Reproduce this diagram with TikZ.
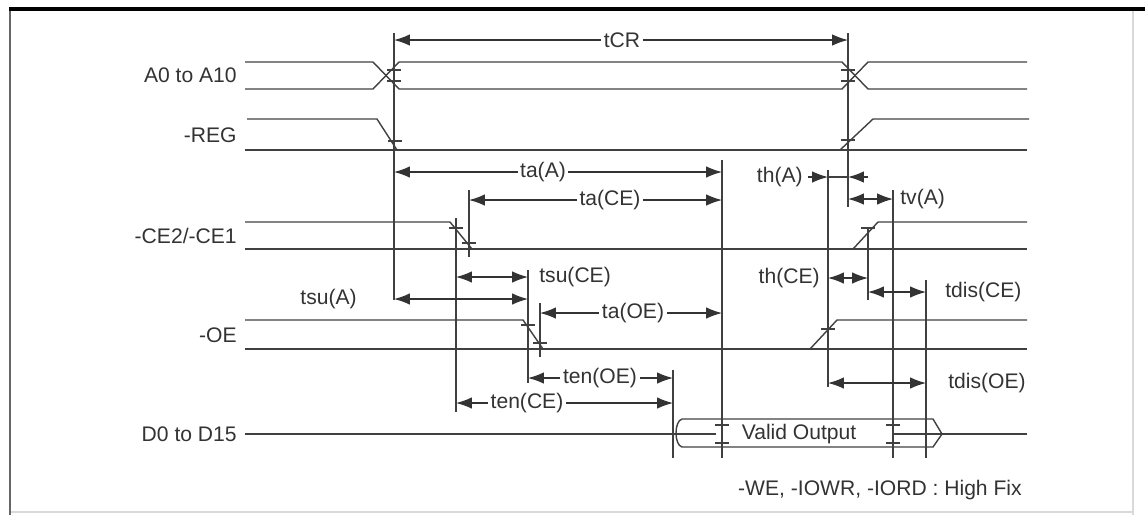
\documentclass[tikz,border=0pt]{standalone}
\usepackage{fontspec}
\setmainfont{Liberation Sans}
\usetikzlibrary{arrows.meta}

\begin{document}
\begin{tikzpicture}[x=0.02cm,y=-0.02cm,
        sig/.style={draw=black!75,line width=0.8pt},
        guide/.style={draw=black!75,line width=0.7pt},
        dim/.style={draw=black!80,line width=0.7pt,{Latex[length=9pt,width=6.5pt]}-{Latex[length=9pt,width=6.5pt]}},
        onetip/.style={draw=black!80,line width=0.7pt,-{Latex[length=9pt,width=6.5pt]}},
        lbl/.style={fill=white,inner sep=1.5pt,font=\fontsize{12}{14}\selectfont,text=black!80},
        signame/.style={inner sep=0pt,font=\fontsize{12}{14}\selectfont,text=black!80}]
        \useasboundingbox (0,0) rectangle (1145,515);
        \draw[black!15,line width=0.6pt] (1133,10) -- (1133,515);
        \draw[black!15,line width=0.6pt] (10,512) -- (1133,512);
        \draw[black!60,line width=1.6pt] (10,9) -- (10,515);
        \draw[black,line width=1.8pt] (9,9) -- (1145,9);

        \node[signame,anchor=east] (addr) at (237,75) {A0 to A10};
        \node[signame,anchor=east] (reg) at (237,135) {-REG};
        \node[signame,anchor=east] (ce) at (237,236) {-CE2/-CE1};
        \node[signame,anchor=east] (oe) at (237,335) {-OE};
        \node[signame,anchor=east] (data) at (237,434) {D0 to D15};
        \node[signame,anchor=east] (fix) at (1022,490) {-WE, -IOWR, -IORD : High Fix};

        \draw[sig] (245,62) -- (373,62) -- (399,89) -- (842,89) -- (868,62) -- (1027,62);
        \draw[sig] (245,89) -- (373,89) -- (399,62) -- (842,62) -- (868,89) -- (1027,89);
        \draw[sig] (247,119) -- (377,119) -- (397,150);
        \draw[sig] (245,150) -- (1027,150);
        \draw[sig] (840,150) -- (873,119) -- (1029,119);
        \draw[sig] (245,222) -- (450,222) -- (472,249);
        \draw[sig] (245,249) -- (1027,249);
        \draw[sig] (853,249) -- (878,222) -- (1027,222);
        \draw[sig] (245,320) -- (523,320) -- (543,349);
        \draw[sig] (245,349) -- (1027,349);
        \draw[sig] (810,349) -- (837,320) -- (1027,320);
        \draw[sig] (245,434) -- (676,434);
        \draw[sig] (682,419) -- (933,419) -- (942,434) -- (933,447) -- (682,447)
            .. controls (674,445) and (674,421) .. (682,419);
        \draw[sig] (676,434) -- (716,434);
        \draw[sig] (893,434) -- (1027,434);
        \node[signame] (valid) at (799,434) {Valid Output};

        \draw[guide] (394,33) -- (394,300);
        \draw[guide] (848,33) -- (848,207);
        \draw[guide] (456,218) -- (456,412);
        \draw[guide] (469,190) -- (469,257);
        \draw[guide] (528,270) -- (528,383);
        \draw[guide] (540,303) -- (540,357);
        \draw[guide] (722,160) -- (722,458);
        \draw[guide] (673,370) -- (673,458);
        \draw[guide] (828,170) -- (828,387);
        \draw[guide] (868,227) -- (868,300);
        \draw[guide] (893,190) -- (893,458);
        \draw[guide] (926,280) -- (926,458);

        \draw[guide] (387,70) -- ++(14,0);
        \draw[guide] (387,81) -- ++(14,0);
        \draw[guide] (388,141) -- ++(14,0);
        \draw[guide] (449,228) -- ++(14,0);
        \draw[guide] (462,243) -- ++(14,0);
        \draw[guide] (521,325) -- ++(14,0);
        \draw[guide] (533,343) -- ++(14,0);
        \draw[guide] (841,70) -- ++(14,0);
        \draw[guide] (841,81) -- ++(14,0);
        \draw[guide] (841,140) -- ++(14,0);
        \draw[guide] (861,228) -- ++(14,0);
        \draw[guide] (821,329) -- ++(14,0);
        \draw[guide] (715,425) -- ++(14,0);
        \draw[guide] (715,443) -- ++(14,0);
        \draw[guide] (886,425) -- ++(14,0);
        \draw[guide] (886,443) -- ++(14,0);

        \draw[dim] (394,40) -- (848,40);
        \node[lbl] (tcr) at (622,40) {tCR};
        \draw[dim] (394,172) -- (722,172);
        \node[lbl] (taa) at (543,172) {ta(A)};
        \draw[dim] (469,200) -- (722,200);
        \node[lbl] (tace) at (610,200) {ta(CE)};
        \draw[dim] (456,277) -- (528,277);
        \node[signame,anchor=west] (tsuce) at (539,277) {tsu(CE)};
        \draw[dim] (394,299) -- (528,299);
        \node[signame,anchor=east] (tsua) at (357,299) {tsu(A)};
        \draw[dim] (540,313) -- (722,313);
        \node[lbl] (taoe) at (633,313) {ta(OE)};
        \draw[dim] (528,378) -- (673,378);
        \node[lbl] (tenoe) at (600,378) {ten(OE)};
        \draw[dim] (456,403) -- (673,403);
        \node[lbl] (tence) at (527,403) {ten(CE)};

        \draw[onetip] (808,177) -- (828,177);
        \draw[guide] (828,177) -- (848,177);
        \draw[onetip] (868,177) -- (848,177);
        \node[signame,anchor=east] (tha) at (803,177) {th(A)};
        \draw[dim] (848,199) -- (893,199);
        \node[signame,anchor=west] (tva) at (900,199) {tv(A)};
        \draw[dim] (828,278) -- (868,278);
        \node[signame,anchor=east] (thce) at (820,278) {th(CE)};
        \draw[dim] (868,292) -- (926,292);
        \node[signame,anchor=west] (tdisce) at (945,292) {tdis(CE)};
        \draw[dim] (828,383) -- (926,383);
        \node[signame,anchor=west] (tdisoe) at (948,383) {tdis(OE)};
    \end{tikzpicture}
\end{document}
